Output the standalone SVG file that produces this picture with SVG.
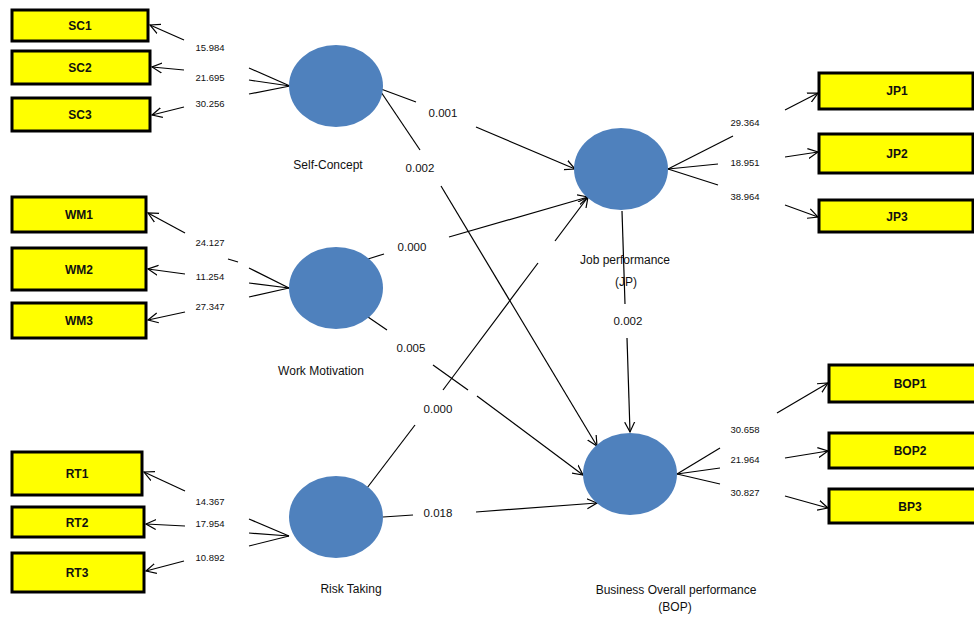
<svg xmlns="http://www.w3.org/2000/svg" width="974" height="621" viewBox="0 0 974 621">
<defs>
<marker id="arr" markerUnits="userSpaceOnUse" markerWidth="12" markerHeight="12" refX="10" refY="5" orient="auto" viewBox="0 0 12 10">
<path d="M0,0 L10,5 L0,10" fill="none" stroke="#000" stroke-width="1.2"/>
</marker>
<style>
.box{fill:#ffff00;stroke:#000;stroke-width:3}
.lv{fill:#4f81bd}
.bl{font-family:"Liberation Sans",Arial,sans-serif;font-size:12px;font-weight:bold;fill:#111;text-anchor:middle}
.cl{font-family:"Liberation Sans",Arial,sans-serif;font-size:12px;fill:#111;text-anchor:middle}
.nl{font-family:"Liberation Sans",Arial,sans-serif;font-size:9.5px;fill:#111;text-anchor:middle}
.pl{font-family:"Liberation Sans",Arial,sans-serif;font-size:11.5px;fill:#111;text-anchor:middle}
.ln{stroke:#000;stroke-width:1.2;fill:none}
.ar{stroke:#000;stroke-width:1.2;fill:none;marker-end:url(#arr)}
</style>
</defs>
<rect width="974" height="621" fill="#fff"/>

<g id="connectors">
<line class="ar" x1="184" y1="40" x2="150" y2="25"/>
<line class="ar" x1="184" y1="70" x2="152" y2="67"/>
<line class="ar" x1="184" y1="107" x2="152" y2="115"/>
<line class="ln" x1="290" y1="86" x2="249" y2="68"/>
<line class="ln" x1="290" y1="86" x2="249" y2="80"/>
<line class="ln" x1="290" y1="86" x2="249" y2="94"/>

<line class="ar" x1="185" y1="233" x2="148" y2="213"/>
<line class="ar" x1="185" y1="274" x2="148" y2="269"/>
<line class="ar" x1="185" y1="312" x2="148" y2="320"/>
<line class="ln" x1="228" y1="259" x2="238" y2="262"/>
<line class="ln" x1="289" y1="288" x2="249" y2="268"/>
<line class="ln" x1="289" y1="288" x2="249" y2="283"/>
<line class="ln" x1="289" y1="288" x2="249" y2="297"/>

<line class="ar" x1="185" y1="491" x2="144" y2="472"/>
<line class="ar" x1="185" y1="526" x2="146" y2="524"/>
<line class="ar" x1="184" y1="561" x2="146" y2="571"/>
<line class="ln" x1="289" y1="536" x2="249" y2="519"/>
<line class="ln" x1="289" y1="536" x2="249" y2="533"/>
<line class="ln" x1="289" y1="536" x2="249" y2="546"/>

<line class="ln" x1="668" y1="169" x2="733" y2="136"/>
<line class="ln" x1="668" y1="169" x2="718" y2="164"/>
<line class="ln" x1="668" y1="169" x2="718" y2="185"/>
<line class="ar" x1="785" y1="110" x2="818" y2="93"/>
<line class="ar" x1="785" y1="157" x2="818" y2="152"/>
<line class="ar" x1="785" y1="205" x2="818" y2="217"/>

<line class="ln" x1="677" y1="474" x2="720" y2="448"/>
<line class="ln" x1="677" y1="474" x2="720" y2="468"/>
<line class="ln" x1="677" y1="474" x2="720" y2="484"/>
<line class="ar" x1="777" y1="413" x2="828" y2="383"/>
<line class="ar" x1="785" y1="458" x2="828" y2="451"/>
<line class="ar" x1="785" y1="496" x2="828" y2="508"/>

<line class="ln" x1="381" y1="89" x2="416" y2="102"/>
<line class="ar" x1="476" y1="127" x2="575" y2="169"/>
<line class="ln" x1="381" y1="92" x2="420" y2="150"/>
<line class="ar" x1="441" y1="186" x2="597" y2="446"/>
<line class="ln" x1="368" y1="259" x2="384" y2="254"/>
<line class="ar" x1="449" y1="237" x2="588" y2="197"/>
<line class="ln" x1="367" y1="488" x2="415" y2="425"/>
<line class="ln" x1="443" y1="390" x2="538" y2="263"/>
<line class="ar" x1="555" y1="241" x2="588" y2="197"/>
<line class="ln" x1="368" y1="317" x2="387" y2="330"/>
<line class="ln" x1="433" y1="365" x2="468" y2="390"/>
<line class="ar" x1="477" y1="396" x2="583" y2="475"/>
<line class="ln" x1="622" y1="211" x2="625" y2="304"/>
<line class="ar" x1="627" y1="338" x2="630" y2="432"/>
<line class="ln" x1="383" y1="517" x2="413" y2="515"/>
<line class="ar" x1="476" y1="512" x2="597" y2="503"/>

<text class="nl" x="210" y="51">15.984</text>
<text class="nl" x="210" y="81">21.695</text>
<text class="nl" x="210" y="107">30.256</text>
<text class="nl" x="210" y="246">24.127</text>
<text class="nl" x="210" y="280">11.254</text>
<text class="nl" x="210" y="310">27.347</text>
<text class="nl" x="210" y="505">14.367</text>
<text class="nl" x="210" y="527">17.954</text>
<text class="nl" x="210" y="561">10.892</text>
<text class="nl" x="745" y="126">29.364</text>
<text class="nl" x="745" y="166">18.951</text>
<text class="nl" x="745" y="200">38.964</text>
<text class="nl" x="745" y="433">30.658</text>
<text class="nl" x="745" y="463">21.964</text>
<text class="nl" x="745" y="496">30.827</text>

<text class="pl" x="443" y="117">0.001</text>
<text class="pl" x="420" y="172">0.002</text>
<text class="pl" x="412" y="251">0.000</text>
<text class="pl" x="411" y="352">0.005</text>
<text class="pl" x="438" y="413">0.000</text>
<text class="pl" x="438" y="517">0.018</text>
<text class="pl" x="628" y="325">0.002</text>
</g>

<g id="SC1"><rect class="box" x="12" y="10" width="136" height="31"/><text class="bl" x="80" y="30">SC1</text></g>
<g id="SC2"><rect class="box" x="12" y="51" width="138" height="33"/><text class="bl" x="80" y="72">SC2</text></g>
<g id="SC3"><rect class="box" x="12" y="98" width="138" height="33"/><text class="bl" x="80" y="119">SC3</text></g>
<g id="WM1"><rect class="box" x="12" y="197" width="134" height="35"/><text class="bl" x="79" y="219">WM1</text></g>
<g id="WM2"><rect class="box" x="12" y="248" width="134" height="42"/><text class="bl" x="79" y="274">WM2</text></g>
<g id="WM3"><rect class="box" x="12" y="303" width="134" height="35"/><text class="bl" x="79" y="325">WM3</text></g>
<g id="RT1"><rect class="box" x="12" y="452" width="130" height="43"/><text class="bl" x="77" y="478">RT1</text></g>
<g id="RT2"><rect class="box" x="12" y="507" width="132" height="30"/><text class="bl" x="77" y="527">RT2</text></g>
<g id="RT3"><rect class="box" x="12" y="553" width="132" height="39"/><text class="bl" x="77" y="577">RT3</text></g>
<g id="JP1"><rect class="box" x="819" y="73" width="154" height="36"/><text class="bl" x="897" y="95">JP1</text></g>
<g id="JP2"><rect class="box" x="819" y="134" width="154" height="39"/><text class="bl" x="897" y="158">JP2</text></g>
<g id="JP3"><rect class="box" x="819" y="200" width="154" height="32"/><text class="bl" x="897" y="221">JP3</text></g>
<g id="BOP1"><rect class="box" x="829" y="365" width="147" height="37"/><text class="bl" x="910" y="388">BOP1</text></g>
<g id="BOP2"><rect class="box" x="829" y="433" width="147" height="35"/><text class="bl" x="910" y="455">BOP2</text></g>
<g id="BP3"><rect class="box" x="829" y="489" width="147" height="34"/><text class="bl" x="910" y="511">BP3</text></g>

<g id="SelfConcept"><ellipse class="lv" cx="336" cy="86" rx="47" ry="41"/><text class="cl" x="328" y="169">Self-Concept</text></g>
<g id="WorkMotivation"><ellipse class="lv" cx="336" cy="288" rx="47" ry="41"/><text class="cl" x="321" y="375">Work Motivation</text></g>
<g id="RiskTaking"><ellipse class="lv" cx="336" cy="517" rx="47" ry="41"/><text class="cl" x="351" y="593">Risk Taking</text></g>
<g id="JP"><ellipse class="lv" cx="621" cy="169" rx="47" ry="41"/><text class="cl" x="625" y="264">Job performance</text><text class="cl" x="626" y="286">(JP)</text></g>
<g id="BOP"><ellipse class="lv" cx="630" cy="474" rx="47" ry="41"/><text class="cl" x="676" y="594">Business Overall performance</text><text class="cl" x="675" y="611">(BOP)</text></g>
</svg>
